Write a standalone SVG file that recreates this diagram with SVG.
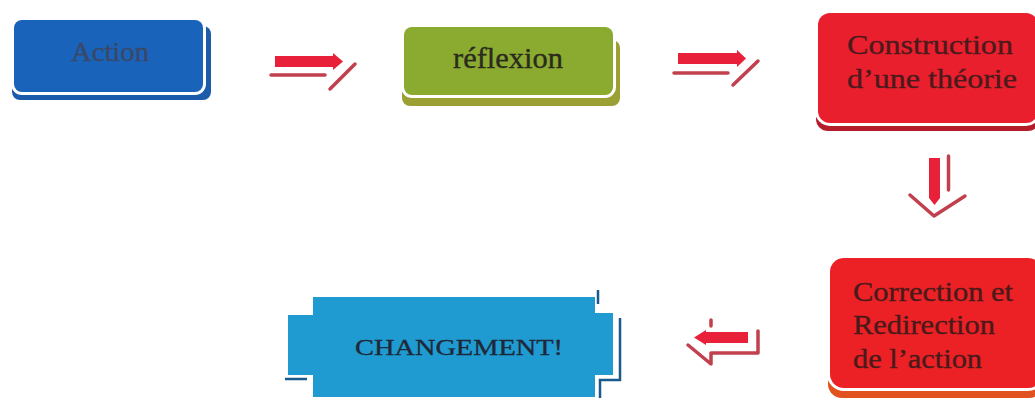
<svg xmlns="http://www.w3.org/2000/svg" width="1035" height="400" viewBox="0 0 1035 400">
  <style>
    .lbl { font-family: "Liberation Serif", "Times New Roman", serif; stroke-width: 0.35; }
    .box { stroke: #ffffff; stroke-width: 6; paint-order: stroke; }
    .bar { fill: #e8203a; }
    .thin { fill: none; stroke: #c2404e; stroke-width: 3.5; stroke-linecap: round; stroke-linejoin: round; }
  </style>
  <rect width="1035" height="400" fill="#ffffff"/>

  <!-- Action -->
  <g id="node-action">
    <rect x="12" y="26" width="199" height="74" rx="8" fill="#1c5cab"/>
    <rect class="box" x="14" y="20" width="189" height="72" rx="8" fill="#1a63bb"/>
    <text class="lbl" x="110" y="61" font-size="27" fill="#3a4866" stroke="#3a4866" text-anchor="middle" textLength="78" lengthAdjust="spacingAndGlyphs">Action</text>
  </g>

  <!-- réflexion -->
  <g id="node-reflexion">
    <rect x="402" y="40" width="218" height="66" rx="8" fill="#9aa033"/>
    <rect class="box" x="404" y="27" width="209" height="68" rx="8" fill="#8aab2f"/>
    <text class="lbl" x="508" y="68" font-size="30" fill="#2a2a1e" stroke="#2a2a1e" text-anchor="middle" textLength="110" lengthAdjust="spacingAndGlyphs">réflexion</text>
  </g>

  <!-- Construction d'une théorie -->
  <g id="node-construction">
    <rect x="816" y="30" width="224" height="101" rx="12" fill="#b51d2b"/>
    <rect class="box" x="818" y="13" width="220" height="110" rx="12" fill="#ea1f2d"/>
    <text class="lbl" x="930" y="54" font-size="28" fill="#4a1a1c" stroke="#4a1a1c" text-anchor="middle" textLength="166" lengthAdjust="spacingAndGlyphs">Construction</text>
    <text class="lbl" x="932" y="88" font-size="28" fill="#4a1a1c" stroke="#4a1a1c" text-anchor="middle" textLength="170" lengthAdjust="spacingAndGlyphs">d’une théorie</text>
  </g>

  <!-- Correction et Redirection de l'action -->
  <g id="node-correction">
    <rect x="828" y="272" width="215" height="126" rx="14" fill="#e2521f"/>
    <rect class="box" x="830" y="258" width="212" height="130" rx="14" fill="#ec2126"/>
    <text class="lbl" x="853" y="301" font-size="27" fill="#4a1a1a" stroke="#4a1a1a" textLength="160" lengthAdjust="spacingAndGlyphs">Correction et</text>
    <text class="lbl" x="853" y="334" font-size="27" fill="#4a1a1a" stroke="#4a1a1a" textLength="142" lengthAdjust="spacingAndGlyphs">Redirection</text>
    <text class="lbl" x="853" y="368" font-size="27" fill="#4a1a1a" stroke="#4a1a1a" textLength="129" lengthAdjust="spacingAndGlyphs">de l’action</text>
  </g>

  <!-- CHANGEMENT! -->
  <g id="node-changement">
    <path d="M598 290 V304 M620 318 V380 H600 V398 M285 379 H307" fill="none" stroke="#1a5a8c" stroke-width="2.5"/>
    <polygon points="313,297 595,297 595,313 613,313 613,375 595,375 595,397 313,397 313,375 288,375 288,315 313,315" fill="#1f9bd1"/>
    <text class="lbl" x="459" y="355" font-size="24" fill="#1e2838" stroke="#1e2838" text-anchor="middle" textLength="208" lengthAdjust="spacingAndGlyphs">CHANGEMENT!</text>
  </g>

  <!-- connectors -->
  <g id="connectors">
    <!-- Action to réflexion -->
    <g id="arrow-1">
      <polygon class="bar" points="275,56 333,56 333,53 343,61.5 333,70 333,67 275,67"/>
      <path class="thin" d="M271 75 H325 M330 89 L355 64"/>
    </g>
    <!-- réflexion to Construction -->
    <g id="arrow-2">
      <polygon class="bar" points="678,53 737,53 737,50 746,58.5 737,67 737,64 678,64"/>
      <path class="thin" d="M674 73 H728 M733 85 L758 61"/>
    </g>
    <!-- Construction down to Correction -->
    <g id="arrow-3">
      <polygon class="bar" points="929,158 940,158 940,198 934.5,205 929,198"/>
      <path class="thin" d="M948.5 156 V190 M910 195 L934 216 L965 196"/>
    </g>
    <!-- Correction back to CHANGEMENT -->
    <g id="arrow-4">
      <polygon class="bar" points="748,332 706,332 706,330 694,337.5 706,345 706,343 748,343"/>
      <path class="thin" d="M758 331 V353 H711 V364 L688 345 M711 320 V326"/>
    </g>
  </g>
</svg>
